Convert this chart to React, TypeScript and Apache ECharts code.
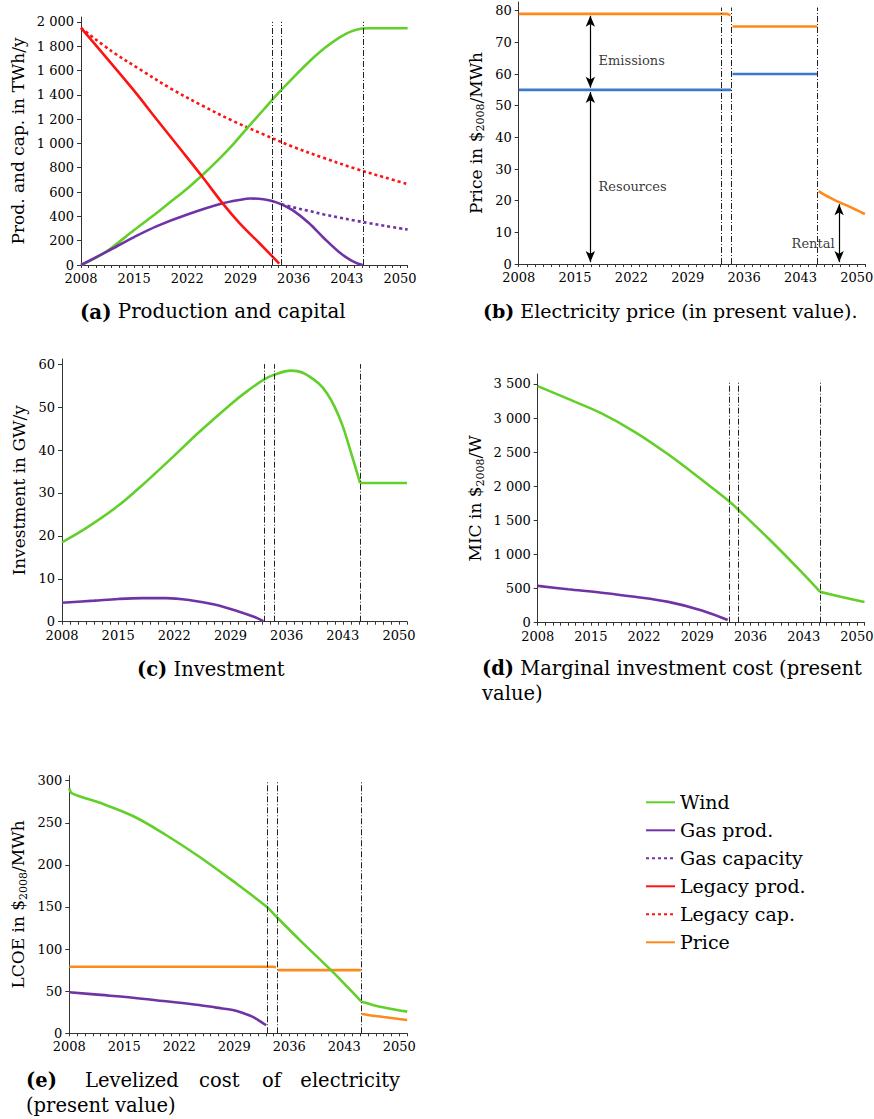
import React, { useEffect, useRef } from 'react';
import * as echarts from 'echarts';

const FONT = 'DejaVu Serif';
const GREEN = '#62cf2a';
const PURPLE = '#7033a6';
const RED = '#ff1212';
const ORANGE = '#ff8a1c';
const BLUE = '#3a78cc';
const AXIS = '#333';

const YEAR_TICKS = [2008, 2015, 2022, 2029, 2036, 2043, 2050];
const REGIME_YEARS = [2033.15, 2034.4, 2045.12];
const LEGEND_NAMES = ['Wind', 'Gas prod.', 'Gas capacity', 'Legacy prod.', 'Legacy cap.', 'Price'];

// y tick labels per panel
const Y_TICKS_A = [0, 200, 400, 600, 800, 1000, 1200, 1400, 1600, 1800, 2000];
const Y_TICKS_B = [0, 10, 20, 30, 40, 50, 60, 70, 80];
const Y_TICKS_C = [0, 10, 20, 30, 40, 50, 60];
const Y_TICKS_D = [0, 500, 1000, 1500, 2000, 2500, 3000, 3500];
const Y_TICKS_E = [0, 50, 100, 150, 200, 250, 300];
const Y_TICKS = [Y_TICKS_A, Y_TICKS_B, Y_TICKS_C, Y_TICKS_D, Y_TICKS_E];
const Y_AXIS_END = [2040, 82.75, 61.2, 3646, 305.9];
const REGIME_TOP = [2000, 81, 60, 3550, 300];

// (a) Production and capital, TWh/y
const WIND_PROD = [[2008, 0], [2010, 60], [2012, 140], [2015, 288], [2018, 430], [2020, 530], [2022, 630], [2024, 740], [2026, 860], [2028, 990], [2030, 1135], [2032, 1275], [2034, 1415], [2036, 1545], [2038, 1670], [2040, 1780], [2042, 1870], [2043.5, 1920], [2045, 1945], [2046, 1948], [2051, 1948]];
const GAS_PROD = [[2008, 0], [2011.4, 110], [2015, 230], [2018, 320], [2022, 415], [2026.65, 507], [2029, 537], [2030.25, 547], [2032, 541], [2033.15, 527], [2034.4, 499], [2036, 445], [2038, 345], [2040, 220], [2042, 105], [2043.5, 40], [2044.5, 10], [2045.1, 0]];
const GAS_CAP = [[2034.4, 499], [2036, 474], [2038, 445], [2040, 416], [2042, 390], [2044, 366], [2046, 344], [2048, 322], [2051, 292]];
const LEGACY_PROD = [[2008, 1950], [2011, 1730], [2014.9, 1440], [2018, 1195], [2021, 960], [2023.9, 732], [2026.65, 507], [2028.9, 343], [2031.6, 173], [2034.1, 12]];
const LEGACY_CAP = [[2008, 1950], [2012, 1760], [2016, 1600], [2020, 1445], [2024, 1310], [2028, 1185], [2032, 1075], [2036, 970], [2040, 880], [2044, 795], [2048, 720], [2051, 665]];

// (b) Electricity price, $2008/MWh
const PRICE_A = [[2008, 79], [2033.9, 79], [2034.3, 78.5]];
const PRICE_B = [[2034.55, 75], [2045.1, 75]];
const PRICE_C = [[2045.25, 23], [2046, 21.8], [2047, 20.5], [2048, 19.3], [2049, 18.2], [2050, 17], [2051, 15.8]];
const RESOURCE_A = [[2008, 55], [2034.4, 55]];
const RESOURCE_B = [[2034.55, 60], [2045.1, 60]];
const ANNOTATION_TEXT = ['Emissions', 'Resources', 'Rental'];
const ANNOTATION_YEARS = [2017.85, 2017.85, 2047.3];
const ANNOTATION_VALUES = [64.2, 24.6, 6.6];
const ARROW_YEARS = [2016.9, 2016.9, 2047.8];
const ARROW_FROM = [78.4, 54.3, 0.6];
const ARROW_TO = [55.7, 0.6, 18.9];

// (c) Investment, GW/y
const WIND_INV_A = [[2008, 18.5], [2011, 21.8], [2015, 27.0], [2018, 31.8], [2022, 38.7], [2025, 44.0], [2029, 50.6], [2031, 53.6], [2033.15, 56.4], [2034.4, 57.5], [2036.5, 58.5], [2038, 58.0], [2040, 55.5], [2041, 53.3], [2042, 50.0], [2043, 45.5], [2044, 39.5], [2045.16, 32.3]];
const WIND_INV_B = [[2045.16, 32.3], [2051, 32.3]];
const GAS_INV = [[2008, 4.4], [2012, 4.9], [2015, 5.3], [2018, 5.5], [2021, 5.5], [2024, 5.0], [2027, 4.0], [2030, 2.4], [2032, 1.1], [2033.1, 0.15]];

// (d) Marginal investment cost, $2008/W
const WIND_MIC_A = [[2008, 3468], [2012, 3281], [2016.4, 3068], [2020.8, 2795], [2025.2, 2465], [2029.6, 2095], [2033.1, 1789], [2034.3, 1667], [2038.4, 1230], [2042.7, 744], [2045.15, 452]];
const WIND_MIC_B = [[2045.15, 452], [2048, 378], [2051, 302]];
const GAS_MIC = [[2008, 540], [2012, 490], [2016.4, 440], [2020.8, 380], [2025.2, 305], [2029.6, 180], [2033, 40]];

// (e) LCOE, $2008/MWh
const WIND_LCOE_A = [[2008, 291], [2008.35, 285], [2011.8, 274], [2016.1, 258], [2020.3, 235.5], [2024.5, 210], [2028.8, 181], [2033.15, 150], [2034.3, 139], [2037.3, 111], [2041.3, 75], [2043.3, 56], [2045.17, 37.6]];
const WIND_LCOE_B = [[2045.2, 37.6], [2047.9, 30.9], [2051, 25.7]];
const GAS_LCOE = [[2008, 48.7], [2012, 45.6], [2016.1, 42.3], [2020, 38.3], [2024.5, 33.6], [2026.7, 30.5], [2028.8, 27.7], [2030, 24.5], [2031.3, 19.8], [2032, 16], [2033.05, 9.5]];

const GRIDS = [
  { left: 81, top: 17, width: 326.6, height: 248 },
  { left: 518.7, top: 2, width: 346.2, height: 262 },
  { left: 62, top: 359, width: 345, height: 262.7 },
  { left: 537.7, top: 374, width: 326.8, height: 248.7 },
  { left: 69.3, top: 775.7, width: 337.9, height: 257.6 },
];

const NAME_RICH = {
  n: { fontFamily: FONT, fontSize: 17, lineHeight: 17, verticalAlign: 'top', color: '#000' },
  s: { fontFamily: FONT, fontSize: 11, lineHeight: 19, verticalAlign: 'bottom', color: '#000' },
};
const Y_NAMES = [
  '{n|Prod. and cap. in TWh/y}',
  '{n|Price in $}{s|2008}{n|/MWh}',
  '{n|Investment in GW/y}',
  '{n|MIC in $}{s|2008}{n|/W}',
  '{n|LCOE in $}{s|2008}{n|/MWh}',
];
const Y_NAME_GAPS = [54.5, 32.5, 35, 52, 40.5];

function fmtThousands(v: number) {
  if (v >= 1000) {
    const r = String(v % 1000).padStart(3, '0');
    return Math.floor(v / 1000) + ' ' + r;
  }
  return String(v);
}

function line(name: string, data: number[][], color: string, idx: number, opts: any = {}) {
  return {
    type: 'line',
    name,
    data,
    xAxisIndex: idx,
    yAxisIndex: idx,
    symbol: 'none',
    showSymbol: false,
    smooth: opts.smooth ?? 0.35,
    lineStyle: { color, width: 2.6, type: opts.dotted ? [3, 3] : 'solid', cap: 'butt' },
    itemStyle: { color },
    z: opts.z ?? 2,
    silent: true,
    ...(opts.markLine ? { markLine: opts.markLine } : {}),
  };
}

function regimeLines(i: number) {
  return {
    silent: true,
    symbol: ['none', 'none'],
    label: { show: false },
    lineStyle: { color: '#222', width: 1, type: [6, 2, 1, 2] },
    emphasis: { disabled: true },
    data: REGIME_YEARS.map((x) => [{ coord: [x, 0] }, { coord: [x, REGIME_TOP[i]] }]),
  };
}

const arrowLines = {
  silent: true,
  symbol: ['arrow', 'arrow'],
  symbolSize: [7, 11],
  label: { show: false },
  lineStyle: { color: '#000', width: 1.2, type: 'solid' },
  emphasis: { disabled: true },
  data: ARROW_YEARS.map((x, i) => [{ coord: [x, ARROW_FROM[i]] }, { coord: [x, ARROW_TO[i]] }]),
};

function capText(x: number, y: number, text: string, align = 'left', size = 19.5) {
  return {
    type: 'text',
    x,
    y,
    silent: true,
    style: {
      text,
      textAlign: align,
      align,
      textVerticalAlign: 'middle',
      verticalAlign: 'middle',
      fill: '#000',
      fontFamily: FONT,
      fontSize: size,
      rich: {
        b: { fontFamily: FONT, fontSize: size, fontWeight: 'bold', fill: '#000' },
        n: { fontFamily: FONT, fontSize: size, fill: '#000' },
      },
    },
  };
}

export default function App() {
  const ref = useRef<HTMLDivElement>(null);
  useEffect(() => {
    if (!ref.current) return;
    const chart = echarts.init(ref.current, undefined, { renderer: 'svg' });
    const grid = GRIDS.map((g) => ({ ...g, containLabel: false, outerBoundsMode: 'none' }));
    const xAxis = GRIDS.map((_, i) => ({
      type: 'value',
      gridIndex: i,
      min: 2008,
      max: 2051,
      interval: 1,
      axisLine: { show: true, onZero: false, lineStyle: { color: AXIS, width: 1 } },
      axisTick: { show: true, length: 3, lineStyle: { color: AXIS, width: 1 } },
      splitLine: { show: false },
      axisLabel: {
        show: true,
        margin: 7,
        color: '#000',
        fontFamily: FONT,
        fontSize: 13,
        formatter: (v: number) => (YEAR_TICKS.includes(v) ? String(v) : ''),
      },
    }));
    const yAxis = GRIDS.map((_, i) => {
      const ticks = Y_TICKS[i];
      const top = ticks[ticks.length - 1];
      return {
        type: 'value',
        gridIndex: i,
        min: 0,
        max: Y_AXIS_END[i],
        name: Y_NAMES[i],
        nameLocation: 'middle',
        nameRotate: 90,
        nameGap: Y_NAME_GAPS[i],
        nameMoveOverlap: false,
        nameTextStyle: { rich: NAME_RICH, fontFamily: FONT, fontSize: 17, color: '#000' },
        axisLine: { show: true, onZero: false, lineStyle: { color: AXIS, width: 1 } },
        axisTick: { show: true, length: 4, customValues: ticks, lineStyle: { color: AXIS, width: 1 } },
        splitLine: { show: false },
        axisLabel: {
          margin: 7,
          color: '#000',
          fontFamily: FONT,
          fontSize: 13,
          customValues: ticks,
          formatter: (v: number) => (v > top ? '' : fmtThousands(v)),
        },
      };
    });

    const series: any[] = [
      // (a)
      line('Legacy cap.', LEGACY_CAP, RED, 0, { dotted: true, markLine: regimeLines(0) }),
      line('Gas capacity', GAS_CAP, PURPLE, 0, { dotted: true }),
      line('Wind', WIND_PROD, GREEN, 0),
      line('Gas prod.', GAS_PROD, PURPLE, 0, { z: 3 }),
      line('Legacy prod.', LEGACY_PROD, RED, 0, { z: 4 }),
      // (b)
      line('Price', PRICE_A, ORANGE, 1, { smooth: 0, markLine: regimeLines(1) }),
      line('Price', PRICE_B, ORANGE, 1, { smooth: 0 }),
      line('Price', PRICE_C, ORANGE, 1, { smooth: 0.3 }),
      line('Resource cost', RESOURCE_A, BLUE, 1, { smooth: 0, markLine: arrowLines }),
      line('Resource cost', RESOURCE_B, BLUE, 1, { smooth: 0 }),
      {
        type: 'scatter',
        name: 'annotations',
        xAxisIndex: 1,
        yAxisIndex: 1,
        symbolSize: 1,
        silent: true,
        itemStyle: { color: 'rgba(0,0,0,0)' },
        label: { show: true, position: 'right', distance: 0, formatter: '{b}', color: '#000', fontFamily: FONT, fontSize: 13 },
        data: ANNOTATION_TEXT.map((t, i) => ({
          name: t,
          value: [ANNOTATION_YEARS[i], ANNOTATION_VALUES[i]],
          label: { position: i === 2 ? 'left' : 'right', color: '#000' },
        })),
      },
      // (c)
      line('Wind', WIND_INV_A, GREEN, 2, { markLine: regimeLines(2) }),
      line('Wind', WIND_INV_B, GREEN, 2, { smooth: 0 }),
      line('Gas prod.', GAS_INV, PURPLE, 2),
      // (d)
      line('Wind', WIND_MIC_A, GREEN, 3, { markLine: regimeLines(3) }),
      line('Wind', WIND_MIC_B, GREEN, 3),
      line('Gas prod.', GAS_MIC, PURPLE, 3),
      // (e)
      line('Price', PRICE_A, ORANGE, 4, { smooth: 0, markLine: regimeLines(4) }),
      line('Price', PRICE_B, ORANGE, 4, { smooth: 0 }),
      line('Price', PRICE_C, ORANGE, 4, { smooth: 0.3 }),
      line('Wind', WIND_LCOE_A, GREEN, 4, { z: 3 }),
      line('Wind', WIND_LCOE_B, GREEN, 4, { z: 3 }),
      line('Gas prod.', GAS_LCOE, PURPLE, 4),
    ];

    chart.setOption({
      animation: false,
      backgroundColor: '#fff',
      textStyle: { fontFamily: FONT },
      grid,
      xAxis,
      yAxis,
      legend: {
        data: LEGEND_NAMES,
        orient: 'vertical',
        left: 640,
        top: 787.8,
        itemWidth: 29,
        itemHeight: 14,
        itemGap: 9,
        selectedMode: false,
        itemStyle: { opacity: 0 },
        textStyle: { fontFamily: FONT, fontSize: 19, color: '#000' },
      },
      graphic: [
        capText(80, 311.5, '{b|(a)}{n| Production and capital}', 'left', 19.8),
        capText(483, 311, '{b|(b)}{n| Electricity price (in present value).}', 'left', 19),
        capText(137, 669, '{b|(c)}{n| Investment}'),
        capText(482, 668, '{b|(d)}{n| Marginal investment cost (present}'),
        capText(482, 693, '{n|value)}'),
        capText(26, 1080, '{b|(e)}'),
        capText(85, 1080, '{n|Levelized}'),
        capText(199, 1080, '{n|cost}'),
        capText(262, 1080, '{n|of}'),
        capText(400, 1080, '{n|electricity}', 'right'),
        capText(26, 1105, '{n|(present value)}'),
      ],
      series,
    });
    return () => chart.dispose();
  }, []);
  return (
    <div
      ref={ref}
      style={{ position: 'absolute', left: 0, top: 0, width: 874, height: 1119, background: '#fff' }}
    />
  );
}
